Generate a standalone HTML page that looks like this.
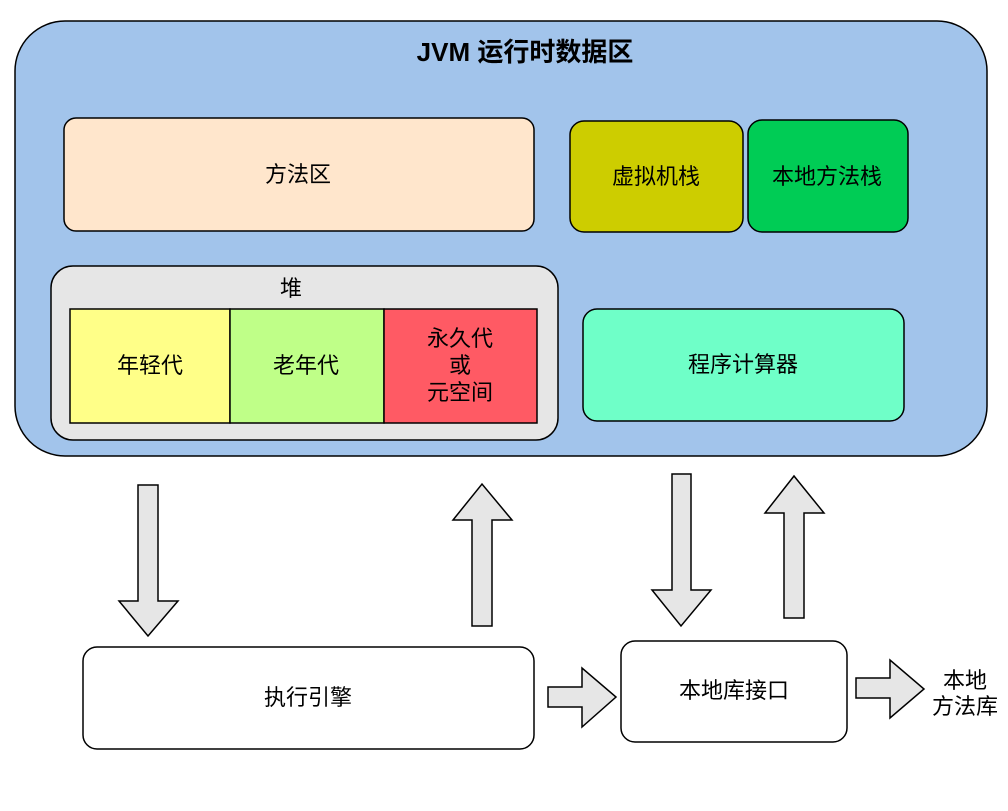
<!DOCTYPE html>
<html><head><meta charset="utf-8"><style>
body{margin:0;background:#fff;}
svg text{font-family:"Liberation Sans","Noto Sans CJK SC",sans-serif;font-size:22px;fill:#000;}
</style></head><body>
<svg width="1008" height="806" viewBox="0 0 1008 806" xmlns="http://www.w3.org/2000/svg">
<g stroke="#000" stroke-width="1.5">
<rect x="15" y="21" width="972" height="435" rx="50" fill="#a2c4eb"/>
<rect x="64" y="118" width="470" height="113" rx="12" fill="#ffe6cc"/>
<rect x="570" y="121" width="173" height="111" rx="14" fill="#cdcd00"/>
<rect x="748" y="120" width="160" height="112" rx="14" fill="#00cc55"/>
<rect x="51" y="266" width="507" height="174" rx="22" fill="#e6e6e6"/>
<rect x="70" y="309" width="160" height="114" fill="#ffff88"/>
<rect x="230" y="309" width="154" height="114" fill="#bfff88"/>
<rect x="384" y="309" width="153" height="114" fill="#ff5a64"/>
<rect x="583" y="309" width="321" height="112" rx="14" fill="#6fffc8"/>
<rect x="83" y="647" width="451" height="102" rx="14" fill="#fff"/>
<rect x="621" y="641" width="226" height="101" rx="14" fill="#fff"/>
<g fill="#e6e6e6">
<polygon points="138,485 158,485 158,601 178,601 148,636 119,601 138,601"/>
<polygon points="472,626 492,626 492,520 512,520 482,484 453,520 472,520"/>
<polygon points="672,474 691,474 691,590 711,590 681,626 652,590 672,590"/>
<polygon points="784,618 804,618 804,513 824,513 794,476 765,513 784,513"/>
<polygon points="548,687 582,687 582,668 616,697 582,727 582,707 548,707"/>
<polygon points="856,678 890,678 890,660 924,689 890,718 890,698 856,698"/>
</g>
</g>
<text x="525" y="61" text-anchor="middle" style="font-weight:bold;font-size:26px">JVM 运行时数据区</text>
<text x="298" y="182" text-anchor="middle">方法区</text>
<text x="656" y="184" text-anchor="middle">虚拟机栈</text>
<text x="827" y="184" text-anchor="middle">本地方法栈</text>
<text x="291" y="296" text-anchor="middle">堆</text>
<text x="150" y="373" text-anchor="middle">年轻代</text>
<text x="306" y="373" text-anchor="middle">老年代</text>
<text x="460" y="346" text-anchor="middle">永久代</text>
<text x="460" y="373" text-anchor="middle">或</text>
<text x="460" y="400" text-anchor="middle">元空间</text>
<text x="743" y="372" text-anchor="middle">程序计算器</text>
<text x="308" y="705" text-anchor="middle">执行引擎</text>
<text x="734" y="698" text-anchor="middle">本地库接口</text>
<text x="965" y="688" text-anchor="middle">本地</text>
<text x="965" y="714" text-anchor="middle">方法库</text>
</svg>
</body></html>
